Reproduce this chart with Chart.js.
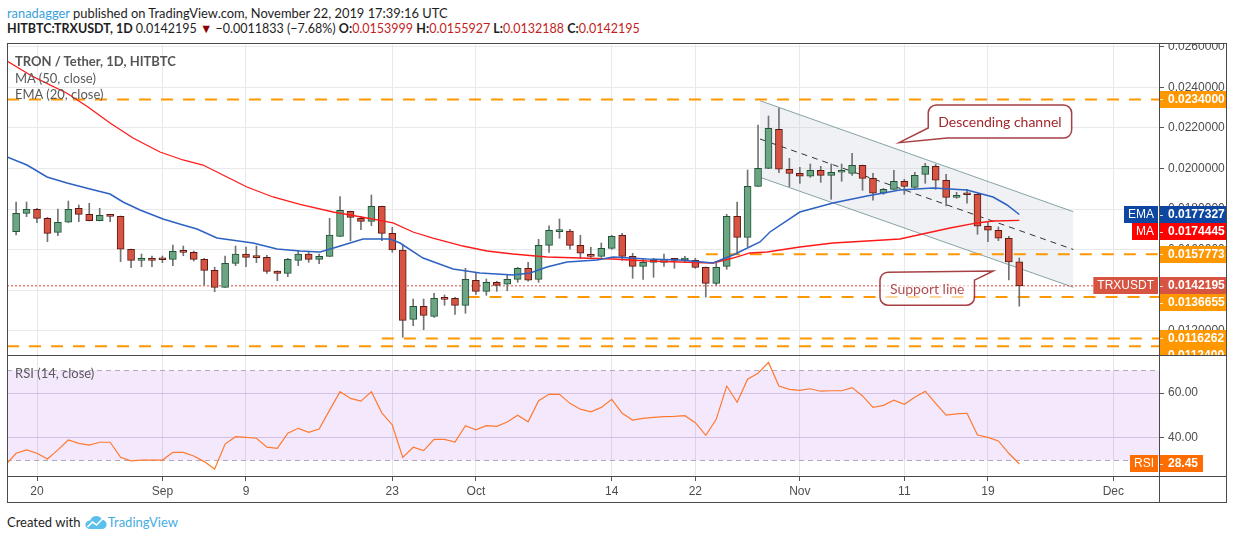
<!DOCTYPE html>
<html><head><meta charset="utf-8">
<script src="https://cdn.jsdelivr.net/npm/chart.js@4.4.1/dist/chart.umd.min.js"></script>
<style>
html,body{margin:0;padding:0;background:#fff;}
body{width:1234px;height:540px;position:relative;overflow:hidden;font-family:Lato,'Open Sans',sans-serif;color:#1e1e1e;}
.abs{position:absolute;white-space:nowrap;}
#h1{left:7px;top:5px;font-size:12.9px;line-height:16px;}
#h2{left:7px;top:21px;font-size:12.5px;line-height:16px;}
.r{color:#c41d1d;}
.leg{position:absolute;left:15px;font-size:13px;line-height:16px;color:#5a5a5a;white-space:nowrap;}
.ln{position:absolute;background:#4a4a4a;z-index:5;}
canvas{position:absolute;}
#foot{left:7px;top:513px;font-size:13px;line-height:18px;color:#1e1e1e;display:flex;align-items:center;}
</style></head>
<body>
<div id="h1" class="abs"><span style="color:#3a9fdc">ranadagger</span> published on TradingView.com, November 22, 2019 17:39:16 UTC</div>
<div id="h2" class="abs"></div>

<canvas id="main" width="1220" height="312" style="left:7px;top:43px;width:1220px;height:312px"></canvas>
<canvas id="rsi" width="1220" height="148" style="left:7px;top:355px;width:1220px;height:148px"></canvas>

<div class="leg" style="top:53px;font-weight:700;color:#555">TRON / Tether, 1D, HITBTC</div>
<div class="leg" style="top:70px">MA (50, close)</div>
<div class="leg" style="top:86px">EMA (20, close)</div>
<div class="leg" style="top:365px">RSI (14, close)</div>

<div class="abs" style="left:7px;top:43px;width:1220px;height:460px;border:1px solid #4a4a4a;box-sizing:border-box;z-index:5;pointer-events:none"></div>
<div class="ln" style="left:1159px;top:43px;width:1px;height:460px"></div>
<div class="ln" style="left:7px;top:355px;width:1220px;height:1px"></div>
<div class="ln" style="left:7px;top:476px;width:1220px;height:1px"></div>

<div id="foot" class="abs">Created with&nbsp;<svg width="24" height="15" viewBox="0 0 24 15"><path d="M5 14 H18 A4.6 4.6 0 0 0 18 4.8 A6.3 6.3 0 0 0 6.2 5.6 A4.2 4.2 0 0 0 5 14 Z" fill="#5cc0ee"/><polyline points="3.5,12 8.5,7 12.5,10 19,3.5" stroke="#fff" stroke-width="1.7" fill="none"/></svg><span style="color:#45ade2">TradingView</span></div>

<script>
// ---------- data ----------
// day index 0 = 2019-08-18, one candle per day
const opens = [
0.016887,0.017793,0.017990,0.017547,0.016857,0.017350,0.018040,0.017744,0.017428,0.017695,
0.017645,0.016020,0.015478,0.015527,0.015527,0.015527,0.015936,0.015872,0.015527,0.014985,
0.014148,0.015330,0.015788,0.015640,0.015625,0.014951,0.014837,0.015478,0.015788,0.015527,
0.015675,0.016660,0.017892,0.017547,0.017399,0.018138,0.016808,0.015985,0.012571,0.013212,
0.012719,0.013606,0.013606,0.013261,0.014493,0.013951,0.014394,0.014296,0.014542,0.015083,
0.014542,0.016217,0.016887,0.016921,0.016217,0.015773,0.015675,0.016069,0.016710,0.015675,
0.015182,0.015379,0.015379,0.015527,0.015493,0.015478,0.015133,0.014344,0.015182,0.017645,
0.016611,0.019123,0.020010,0.021931,0.019961,0.019763,0.019616,0.019911,0.019665,0.019813,
0.019763,0.020158,0.019517,0.018779,0.018975,0.019370,0.019074,0.019714,0.020108,0.019419,
0.018581,0.018759,0.018729,0.017153,0.016956,0.016562,0.0153999];
const highs = [
0.018350,0.018350,0.018040,0.017596,0.018005,0.018399,0.018202,0.018286,0.018040,0.017744,
0.017660,0.016030,0.015788,0.015690,0.015690,0.016231,0.016182,0.015936,0.015576,0.015133,
0.015690,0.016182,0.016133,0.016182,0.015724,0.014960,0.015576,0.015951,0.015901,0.015788,
0.017547,0.018611,0.017900,0.017645,0.018695,0.018150,0.017103,0.016266,0.013571,0.013571,
0.013852,0.013768,0.013655,0.015083,0.014837,0.014557,0.014444,0.014739,0.015133,0.015379,
0.016513,0.017182,0.017512,0.017005,0.016710,0.016118,0.016330,0.016710,0.016808,0.015823,
0.015527,0.015576,0.015788,0.015576,0.015675,0.015576,0.015150,0.015330,0.017744,0.018350,
0.019926,0.022143,0.022586,0.022965,0.020502,0.020059,0.020222,0.020108,0.020222,0.020222,
0.020749,0.020170,0.019763,0.019025,0.019911,0.019468,0.019813,0.020256,0.020207,0.019714,
0.018828,0.018975,0.018740,0.017330,0.017118,0.016660,0.0155927];
const lows = [
0.016724,0.017626,0.017330,0.016394,0.016690,0.017340,0.017379,0.017420,0.017420,0.017379,
0.015409,0.015113,0.015162,0.015162,0.015360,0.015212,0.015704,0.015443,0.014261,0.013931,
0.014140,0.015212,0.015162,0.015360,0.014837,0.014473,0.014670,0.015212,0.015379,0.015310,
0.015660,0.016650,0.016443,0.016985,0.017182,0.016443,0.015872,0.011685,0.012256,0.012059,
0.012670,0.013261,0.012818,0.012867,0.013803,0.013754,0.013951,0.013980,0.014394,0.014444,
0.014394,0.015872,0.016562,0.016020,0.015576,0.015625,0.015625,0.016020,0.015478,0.014591,
0.014542,0.014640,0.015182,0.015083,0.015379,0.015083,0.013670,0.014246,0.015034,0.015778,
0.016148,0.019110,0.019990,0.019793,0.019104,0.019271,0.019566,0.019320,0.018483,0.019370,
0.019665,0.018926,0.018434,0.018729,0.018960,0.018729,0.019025,0.019271,0.018975,0.018152,
0.018532,0.018286,0.016759,0.016394,0.016443,0.014507,0.0132188];
const closes = [
0.017793,0.017990,0.017547,0.016808,0.017350,0.017990,0.017744,0.017428,0.017695,0.017645,
0.016020,0.015478,0.015527,0.015478,0.015507,0.015921,0.015872,0.015527,0.014985,0.014148,
0.015330,0.015788,0.015625,0.015606,0.014936,0.014837,0.015527,0.015788,0.015527,0.015675,
0.016724,0.017941,0.017596,0.017399,0.018138,0.016808,0.015985,0.012522,0.013212,0.012768,
0.013606,0.013557,0.013261,0.014542,0.013951,0.014394,0.014246,0.014542,0.015083,0.014493,
0.016217,0.016956,0.016921,0.016217,0.015823,0.015675,0.016069,0.016660,0.015675,0.015182,
0.015379,0.015428,0.015527,0.015478,0.015527,0.015133,0.014344,0.015133,0.017645,0.016611,
0.019123,0.020010,0.021980,0.019961,0.019763,0.019616,0.019911,0.019665,0.019813,0.019862,
0.020158,0.019517,0.018779,0.018975,0.019370,0.019123,0.019665,0.020108,0.019419,0.018581,
0.018680,0.018709,0.017153,0.016956,0.016562,0.0154028,0.0142195];

const maDays = [-0.87,1.62,4.87,6.88,8.99,11.19,13.77,15.97,17.88,20.18,22.09,24.58,27.17,30.33,33.58,36.07,37.98,39.89,42.76,45.06,47.55,50.8,54.0,57.12,60.37,63.53,66.69,68.6,70.23,71.86,75.0,78.17,81.42,84.58,87.17,89.37,91.95,93.49,96];
const maValues = [0.025295,0.024522,0.023705,0.023030,0.022241,0.021502,0.020813,0.020419,0.020172,0.019581,0.019089,0.018596,0.018227,0.017857,0.017562,0.017316,0.016872,0.016576,0.016182,0.015936,0.015788,0.015640,0.015591,0.015542,0.015443,0.015394,0.015345,0.015591,0.015838,0.015887,0.016133,0.016330,0.016429,0.016527,0.016823,0.017069,0.017316,0.017414,0.0174445];
const emaDays = [-0.87,1.04,2.96,4.87,7.07,8.99,10.23,11.86,14.06,15.97,17.31,19.22,22.67,24.97,27.17,29.09,30.7,33.2,35.78,36.74,38.94,41.81,44.39,47.55,49.18,50.8,52.72,55.59,57.12,60.37,63.53,66.69,68.6,71.19,72.14,75.0,78.17,81.42,84.58,87.74,90.99,93.49,94.83,96];
const emaValues = [0.020567,0.020172,0.019581,0.019286,0.018990,0.018744,0.018350,0.017956,0.017512,0.017217,0.017020,0.016577,0.016330,0.016035,0.015936,0.015887,0.016133,0.016527,0.016527,0.016330,0.015591,0.015049,0.014852,0.014754,0.014852,0.015148,0.015394,0.015493,0.015640,0.015542,0.015493,0.015345,0.015739,0.016380,0.016872,0.017857,0.018300,0.018645,0.018941,0.019039,0.018941,0.018596,0.018202,0.0177327];

// RSI(14), first value is day -1 (2019-08-17)
const rsiValues = [28.0,
33.2,34.7,33.2,30.7,34.7,39.1,37.6,36.8,38.1,38.1,
31.4,29.8,30.2,30.2,30.2,33.6,33.6,32.0,29.5,26.2,
37.3,40.6,40.3,39.9,35.9,35.4,42.1,44.3,42.5,44.0,
52.4,60.6,57.6,56.4,60.6,51.2,45.8,31.4,35.9,34.4,
39.4,39.4,38.2,45.5,43.6,45.5,45.2,47.1,50.1,47.2,
56.6,59.4,59.4,55.4,52.8,51.6,53.6,57.2,51.0,48.0,
48.7,49.2,49.5,49.6,49.9,46.8,41.2,48.3,63.1,55.9,
66.1,68.8,73.6,63.1,61.6,61.2,61.9,60.8,61.0,61.0,
62.4,58.7,53.6,54.5,56.8,55.0,58.1,60.8,55.4,50.2,
50.7,51.0,41.3,40.3,38.7,33.2,28.45];

// drawn levels / channel
const levelValues = [0.0234, 0.0157773, 0.0136655, 0.0116262, 0.01124];
const levelFromDays = [null, 66, 43.2, 35, null];
const channelDays = [71.19, 101.17];
const channelUpper = [0.023340, 0.017872];
const channelLower = [0.019567, 0.014148];
const channelMid = [0.021453, 0.016010];
const rsiBands = [70, 30];

// axes
const tickDays = [2, 14, 22, 36, 44, 57, 65, 75, 85, 93, 105];
const tickLabels = ['20', 'Sep', '9', '23', 'Oct', '14', '22', 'Nov', '11', '19', 'Dec'];
const priceTicks = [0.012, 0.014, 0.016, 0.018, 0.020, 0.022, 0.024, 0.026];
const rsiTicks = [40, 60];

// ---------- view ----------
const xMin = -0.871, xMax = 109.37;
const yMin = 0.010813, yMax = 0.026182;
const rsiMin = 23.1, rsiMax = 76.9;
const AXIS_FONT = "'Liberation Sans Narrow','Liberation Sans',Arial,sans-serif";
const ORANGE = '#ff9800';
const last = closes.length - 1;

// header
(function(){
  const f = v => v.toFixed(7);
  const ch = closes[last] - closes[last-1];
  const pct = ch / closes[last-1] * 100;
  const m = s => s.replace('-', '\u2212');
  document.getElementById('h2').innerHTML =
    '<b>HITBTC:TRXUSDT, 1D</b> ' + f(closes[last]) + ' <span style="color:#8b0000">\u25BC</span> ' +
    m(ch.toFixed(7)) + ' (' + m(pct.toFixed(2)) + '%) ' +
    '<b>O:</b><span class="r">' + f(opens[last]) + '</span> ' +
    '<b>H:</b><span class="r">' + f(highs[last]) + '</span> ' +
    '<b>L:</b><span class="r">' + f(lows[last]) + '</span> ' +
    '<b>C:</b><span class="r">' + f(closes[last]) + '</span>';
})();

const up = closes.map((c, i) => c >= opens[i]);
const lineDS = (data, color, extra) => Object.assign({type:'line', data, borderColor:color, borderWidth:1, pointRadius:0, fill:false, tension:0}, extra||{});

const datasets = [
  lineDS(channelDays.map((d,i)=>({x:d,y:channelUpper[i]})), '#86a2a5', {fill:'+1', backgroundColor:'rgba(190,200,210,0.25)', order:30}),
  lineDS(channelDays.map((d,i)=>({x:d,y:channelLower[i]})), '#86a2a5', {order:29}),
  lineDS(channelDays.map((d,i)=>({x:d,y:channelMid[i]})), '#333', {borderDash:[6,5], order:28}),
];
levelValues.forEach((v,i)=>{
  const from = levelFromDays[i] === null ? xMin : levelFromDays[i];
  datasets.push(lineDS([{x:from,y:v},{x:xMax,y:v}], ORANGE, {borderWidth:2, borderDash:[12,10], order:20}));
});
datasets.push(lineDS([{x:xMin,y:closes[last]},{x:xMax,y:closes[last]}], '#d9463a', {borderDash:[2,2], order:19}));
datasets.push({type:'bar', data: highs.map((h,i)=>({x:i, y:[lows[i], h]})), backgroundColor:'#737375', barThickness:1, grouped:false, order:10});
datasets.push({type:'bar', data: opens.map((o,i)=>({x:i, y:[o, closes[i]]})),
  backgroundColor: up.map(u => u ? '#6ba583' : '#d75442'),
  borderColor: up.map(u => u ? '#225437' : '#5b1a13'),
  borderWidth:1, borderSkipped:false, barThickness:7, minBarLength:2, grouped:false, order:9});
datasets.push(lineDS(maDays.map((d,i)=>({x:d,y:maValues[i]})), '#ff1a1a', {borderWidth:1.3, order:2}));
datasets.push(lineDS(emaDays.map((d,i)=>({x:d,y:emaValues[i]})), '#2d62c2', {borderWidth:1.5, order:1}));

const callouts = [
  {text:'Descending channel', day:94.15, price:0.022315, tipDay:84.5, tipPrice:0.021271, tail:'bottomLeft', fill:'rgba(255,255,255,0.96)', color:'#a2272b'},
  {text:'Support line', day:87.19, price:0.014079, tipDay:93.51, tipPrice:0.014951, tail:'topRight', fill:'rgba(255,255,255,0.6)', color:'rgba(160,35,40,0.8)'}
];

function drawCallout(ctx, xs, ys, c){
  ctx.save();
  ctx.font = '14px Lato, sans-serif';
  const tw = ctx.measureText(c.text).width;
  const w = tw + 20, h = 33, r = 8;
  const cx = xs.getPixelForValue(c.day), cy = ys.getPixelForValue(c.price);
  const L = cx - w/2, R = cx + w/2, T = cy - h/2, B = cy + h/2;
  const tx = xs.getPixelForValue(c.tipDay), ty = ys.getPixelForValue(c.tipPrice);
  ctx.beginPath();
  if (c.tail === 'bottomLeft') {
    ctx.moveTo(L+r, T); ctx.lineTo(R-r, T); ctx.arcTo(R, T, R, T+r, r);
    ctx.lineTo(R, B-r); ctx.arcTo(R, B, R-r, B, r);
    ctx.lineTo(L+19, B); ctx.lineTo(tx, ty); ctx.lineTo(L, B-10);
    ctx.lineTo(L, T+r); ctx.arcTo(L, T, L+r, T, r);
  } else {
    ctx.moveTo(L+r, T); ctx.lineTo(tx, ty); ctx.lineTo(R, T+8);
    ctx.lineTo(R, B-r); ctx.arcTo(R, B, R-r, B, r);
    ctx.lineTo(L+r, B); ctx.arcTo(L, B, L, B-r, r);
    ctx.lineTo(L, T+r); ctx.arcTo(L, T, L+r, T, r);
  }
  ctx.closePath();
  ctx.fillStyle = c.fill; ctx.fill();
  ctx.lineWidth = 1.5; ctx.strokeStyle = 'rgba(150,30,35,0.85)'; ctx.stroke();
  ctx.fillStyle = c.color; ctx.textAlign = 'center'; ctx.textBaseline = 'middle';
  ctx.fillText(c.text, cx, cy + 1);
  ctx.restore();
}

function drawAxisLabels(chart, items, scaleId){
  const ctx = chart.ctx, area = chart.chartArea, ys = chart.scales[scaleId];
  const H = 17;
  ctx.save();
  ctx.font = 'bold 12px ' + AXIS_FONT;
  const placed = items.map(it => Object.assign({}, it, {py: ys.getPixelForValue(it.value)})).sort((a,b)=>a.py-b.py);
  for (let i = 1; i < placed.length; i++) if (placed[i].py - placed[i-1].py < H) placed[i].py = placed[i-1].py + H;
  placed.forEach(p => {
    const x0 = area.right;
    const tw = ctx.measureText(p.text).width;
    const w = Math.min(9 + tw + 5, chart.width - x0);
    const top = Math.round(p.py - H/2);
    ctx.fillStyle = p.bg; ctx.fillRect(x0, top, w, H);
    ctx.fillStyle = 'rgba(255,255,255,0.8)'; ctx.fillRect(x0, Math.round(p.py), 4, 1);
    ctx.fillStyle = '#fff'; ctx.textAlign = 'left'; ctx.textBaseline = 'middle';
    ctx.fillText(p.text, x0 + 9, top + H/2 + 0.5);
    if (p.tag) {
      ctx.font = '12px ' + AXIS_FONT;
      const tg = ctx.measureText(p.tag).width + 8;
      ctx.fillStyle = p.bg; ctx.fillRect(x0 - 1 - tg, top, tg, H);
      ctx.fillStyle = '#fff'; ctx.textAlign = 'center';
      ctx.fillText(p.tag, x0 - 1 - tg/2, top + H/2 + 0.5);
      ctx.font = 'bold 12px ' + AXIS_FONT;
    }
  });
  ctx.restore();
}

const priceLabelItems = [
  {value: levelValues[0], text: levelValues[0].toFixed(7), bg: ORANGE},
  {value: emaValues[emaValues.length-1], text: emaValues[emaValues.length-1].toFixed(7), bg: '#0e47a1', tag:'EMA'},
  {value: maValues[maValues.length-1], text: maValues[maValues.length-1].toFixed(7), bg: '#ff0000', tag:'MA'},
  {value: levelValues[1], text: levelValues[1].toFixed(7), bg: ORANGE},
  {value: closes[last], text: closes[last].toFixed(7), bg: '#d75442', tag:'TRXUSDT'},
  {value: levelValues[2], text: levelValues[2].toFixed(7), bg: ORANGE},
  {value: levelValues[3], text: levelValues[3].toFixed(7), bg: ORANGE},
  {value: levelValues[4], text: levelValues[4].toFixed(7), bg: ORANGE},
];

const commonOpts = {
  responsive:false, animation:false, events:[], devicePixelRatio:1,
  layout:{padding:0, autoPadding:false},
  plugins:{legend:{display:false}, tooltip:{enabled:false}},
};
const noPad = s => { s.paddingTop = 0; s.paddingBottom = 0; s.paddingLeft = 0; s.paddingRight = 0; };

new Chart(document.getElementById('main'), {
  type:'bar',
  data:{datasets},
  options: Object.assign({}, commonOpts, {
    scales:{
      x:{type:'linear', min:xMin, max:xMax, offset:false,
         grid:{color:'#e9e9e9', drawTicks:false, offset:false}, border:{display:false},
         ticks:{display:false},
         afterBuildTicks: s => { s.ticks = tickDays.map(v => ({value:v})); },
         afterFit: s => { s.height = 0; noPad(s); }},
      y:{type:'linear', position:'right', min:yMin, max:yMax,
         grid:{color:'#e9e9e9', tickLength:5, tickColor:'#555'}, border:{display:false},
         ticks:{color:'#4d4d4d', font:{family:AXIS_FONT, size:12}, padding:4, autoSkip:false, callback: v => Number(v).toFixed(7)},
         afterBuildTicks: s => { s.ticks = priceTicks.map(v => ({value:v})); },
         afterFit: s => { s.width = 68; noPad(s); }}
    }
  }),
  plugins:[{
    id:'overlays',
    afterDatasetsDraw(chart){
      callouts.forEach(c => drawCallout(chart.ctx, chart.scales.x, chart.scales.y, c));
    },
    afterDraw(chart){ drawAxisLabels(chart, priceLabelItems, 'y'); }
  }]
});

new Chart(document.getElementById('rsi'), {
  type:'line',
  data:{datasets:[
    lineDS([{x:xMin,y:rsiBands[0]},{x:xMax,y:rsiBands[0]}], '#b3a8bb', {borderDash:[5,4], fill:'+1', backgroundColor:'rgba(155,47,238,0.11)', order:5}),
    lineDS([{x:xMin,y:rsiBands[1]},{x:xMax,y:rsiBands[1]}], '#b3a8bb', {borderDash:[5,4], order:4}),
    lineDS(rsiValues.map((v,i)=>({x:i-1, y:v})), '#ff7a2e', {borderWidth:1.2, order:1})
  ]},
  options: Object.assign({}, commonOpts, {
    scales:{
      x:{type:'linear', min:xMin, max:xMax, offset:false,
         grid:{color:'#e6e6e6', tickLength:5, tickColor:'#555'}, border:{display:false},
         ticks:{color:'#4d4d4d', font:{family:AXIS_FONT, size:12}, padding:3, maxRotation:0, autoSkip:false,
                callback: v => tickLabels[tickDays.indexOf(v)]},
         afterBuildTicks: s => { s.ticks = tickDays.map(v => ({value:v})); },
         afterFit: s => { s.height = 27; noPad(s); }},
      y:{type:'linear', position:'right', min:rsiMin, max:rsiMax,
         grid:{color:'#ddd3e4', tickLength:5, tickColor:'#555'}, border:{display:false},
         ticks:{color:'#4d4d4d', font:{family:AXIS_FONT, size:12}, padding:4, callback: v => Number(v).toFixed(2)},
         afterBuildTicks: s => { s.ticks = rsiTicks.map(v => ({value:v})); },
         afterFit: s => { s.width = 68; noPad(s); }}
    }
  }),
  plugins:[{
    id:'rsiLabel',
    afterDraw(chart){
      const v = rsiValues[rsiValues.length-1];
      drawAxisLabels(chart, [{value:v, text:v.toFixed(2), bg:'#ff6d00', tag:'RSI'}], 'y');
    }
  }]
});
</script>
</body></html>
